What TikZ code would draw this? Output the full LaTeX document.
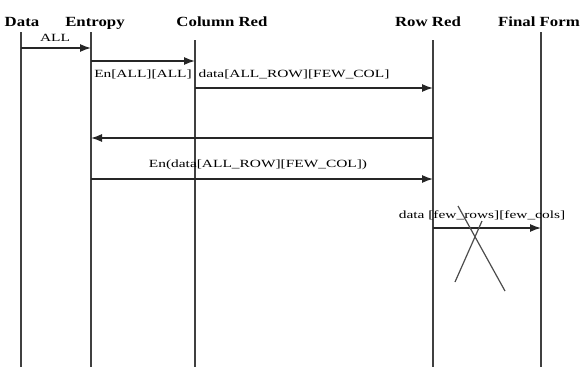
\documentclass[tikz,border=0pt]{standalone}
\usepackage{fontspec}
\setmainfont{Liberation Serif}
\newfontfamily\testata[FakeStretch=1.2]{Liberation Serif}
\newfontfamily\etichetta[FakeStretch=1.4]{Liberation Serif}
\usetikzlibrary{arrows.meta}

\begin{document}
\begin{tikzpicture}[x=1pt, y=-1pt]
	% Stili per partecipanti, linee di vita e messaggi
	\tikzset{attore/.style={inner sep=0pt, anchor=base, font=\testata\bfseries\fontsize{14}{14}\selectfont},
		vita/.style={draw=black!75, line width=1.8pt},
		msg/.style={draw=black!85, line width=1.3pt, -{Latex[length=11pt, width=8pt]}},
		testo/.style={inner sep=0pt, anchor=base, font=\etichetta\fontsize{11}{11}\selectfont}}
	\useasboundingbox (0,0) rectangle (581,367);
	
	% Partecipanti
	\node[attore] (data) at (22,26) {Data};
	\node[attore] (entropy) at (95,26) {Entropy};
	\node[attore] (colred) at (222,26) {Column Red};
	\node[attore] (rowred) at (428,26) {Row Red};
	\node[attore] (final) at (539,26) {Final Form};
	
	% Estremi delle linee di vita
	\coordinate (data-top) at (21,32);   \coordinate (data-bot) at (21,367);
	\coordinate (ent-top) at (91,32);    \coordinate (ent-bot) at (91,367);
	\coordinate (col-top) at (195,40);   \coordinate (col-bot) at (195,367);
	\coordinate (row-top) at (433,40);   \coordinate (row-bot) at (433,367);
	\coordinate (fin-top) at (541,32);   \coordinate (fin-bot) at (541,367);
	
	\draw[vita] (data-top) -- (data-bot);
	\draw[vita] (ent-top) -- (ent-bot);
	\draw[vita] (col-top) -- (col-bot);
	\draw[vita] (row-top) -- (row-bot);
	\draw[vita] (fin-top) -- (fin-bot);
	
	% Punti dei messaggi
	\coordinate (m1a) at (21,48);   \coordinate (m1b) at (91,48);
	\coordinate (m2a) at (91,61);   \coordinate (m2b) at (195,61);
	\coordinate (m3a) at (195,88);  \coordinate (m3b) at (433,88);
	\coordinate (m4a) at (433,138); \coordinate (m4b) at (91,138);
	\coordinate (m5a) at (91,179);  \coordinate (m5b) at (433,179);
	\coordinate (m6a) at (433,228); \coordinate (m6b) at (541,228);
	
	\draw[msg] (m1a) -- (m1b);
	\draw[msg] (m2a) -- (m2b);
	\draw[msg] (m3a) -- (m3b);
	\draw[msg] (m4a) -- (m4b);
	\draw[msg] (m5a) -- (m5b);
	\draw[msg] (m6a) -- (m6b);
	
	% Etichette dei messaggi
	\node[testo] (l1) at (55,41) {ALL};
	\node[testo] (l2) at (143,77) {En[ALL][ALL]};
	\node[testo] (l3) at (294,77) {data[ALL\_ROW][FEW\_COL]};
	\node[testo] (l5) at (258,167) {En(data[ALL\_ROW][FEW\_COL])};
	\node[testo] (l6) at (482,218) {data [few\_rows][few\_cols]};
	
	% Croce sotto Row Red
	\coordinate (xa) at (458,206); \coordinate (xb) at (505,291);
	\coordinate (xc) at (482,221); \coordinate (xd) at (455,282);
	\draw[draw=black!70, line width=1.2pt] (xa) -- (xb);
	\draw[draw=black!70, line width=1.2pt] (xc) -- (xd);
\end{tikzpicture}
\end{document}
